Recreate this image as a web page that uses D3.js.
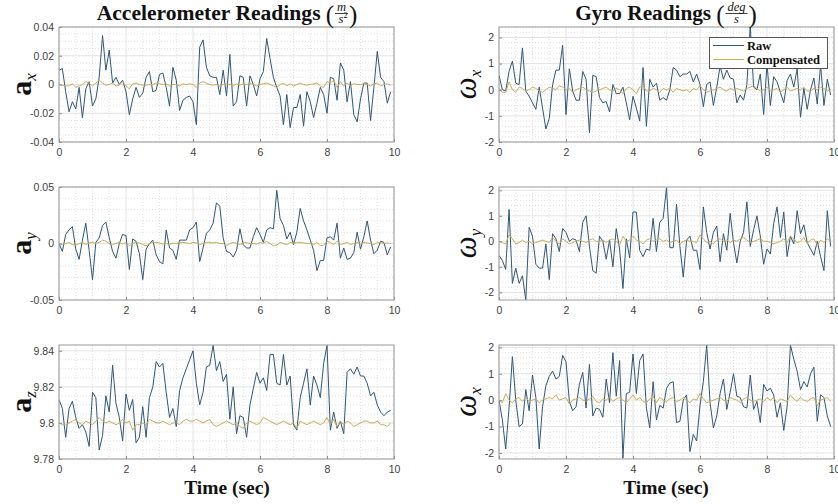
<!DOCTYPE html>
<html>
<head>
<meta charset="utf-8">
<script src="https://cdn.jsdelivr.net/npm/d3@7"></script>
<style>
  body { margin: 0; background: #fff; }
  svg { display: block; }
</style>
</head>
<body>
<svg id="chart"></svg>
<script>
// sample times, 0 .. 9.9 s
var time = d3.range(100).map(i => i / 10);
var timeTicks = [0, 2, 4, 6, 8, 10];

var axRaw = [
  0.010, 0.011, -0.005, -0.019, -0.012, -0.017, -0.002, -0.023, -0.003, 0.002,
  -0.015, -0.010, 0.005, 0.034, 0.010, 0.024, 0.001, 0.005, 0.000, 0.003,
  -0.005, -0.021, -0.010, -0.002, -0.009, -0.006, 0.005, 0.009, -0.005, -0.004,
  0.007, 0.008, -0.002, -0.015, 0.012, 0.003, -0.018, -0.011, -0.009, -0.008,
  -0.012, -0.028, 0.026, 0.031, 0.012, 0.006, 0.005, 0.005, -0.007, 0.010,
  -0.008, 0.021, -0.015, -0.012, 0.006, 0.005, -0.015, 0.006, 0.000, -0.008,
  0.004, 0.009, 0.032, 0.018, 0.005, -0.002, -0.008, -0.028, -0.007, -0.030,
  -0.016, -0.016, -0.007, -0.029, -0.005, -0.012, -0.023, -0.013, -0.002, -0.007,
  -0.020, 0.005, 0.004, -0.011, 0.015, 0.010, -0.012, 0.002, -0.021, -0.026,
  -0.010, 0.001, 0.001, -0.025, -0.002, 0.023, 0.005, 0.002, -0.013, -0.005
];
var axComp = [
  0, -0.0005, -0.001, -0.001, 0.0005, -0.002, -0.001, 0, 0.002, 0.001,
  -0.001, 0.001, 0.003, 0.001, -0.0005, 0, 0.001, -0.001, -0.0005, 0.002,
  -0.001, -0.003, 0.0005, 0.001, 0, -0.0005, -0.0005, 0, 0, 0.001,
  0.0005, 0, 0.0005, -0.001, 0, 0, -0.001, 0.0005, 0, 0.0005,
  0, -0.002, 0.001, 0.002, 0.001, 0, -0.0005, 0, -0.001, 0,
  0.0005, 0, -0.001, 0.0005, -0.0005, 0.0005, 0, 0.001, 0, -0.001,
  0, 0.0005, 0.001, 0, -0.001, -0.002, 0, 0.001, -0.001, 0.0005,
  -0.001, 0, 0.001, 0, -0.0005, 0, 0.0005, 0.001, -0.001, -0.002,
  0.002, 0.001, 0.003, -0.002, 0.002, -0.001, 0.001, -0.001, 0.0005, 0,
  0, 0.0005, 0, -0.001, 0.0005, 0.001, -0.001, 0, 0.0005, -0.0005
];
var ayRaw = [
  0.000, -0.007, 0.008, 0.012, 0.015, -0.005, -0.014, 0.003, 0.018, -0.006,
  -0.032, 0.001, 0.005, 0.016, 0.019, 0.005, -0.007, -0.013, 0.000, 0.008,
  0.007, -0.023, 0.004, 0.002, -0.009, -0.032, -0.005, 0.000, 0.003, -0.010,
  -0.016, -0.018, 0.012, -0.004, -0.006, -0.014, 0.003, 0.003, 0.003, 0.012,
  0.014, 0.019, -0.016, -0.004, 0.009, 0.012, 0.018, 0.036, 0.033, 0.005,
  -0.007, -0.008, -0.012, -0.006, 0.013, -0.001, -0.004, -0.004, 0.006, 0.014,
  0.008, 0.001, 0.012, 0.014, 0.013, 0.047, 0.022, 0.016, 0.004, 0.010,
  -0.001, 0.010, 0.031, 0.020, 0.012, 0.003, -0.006, -0.024, -0.015, -0.015,
  0.005, 0.006, 0.003, 0.018, -0.013, -0.004, -0.014, -0.013, -0.008, 0.010,
  -0.005, 0.006, 0.020, 0.003, -0.009, -0.006, 0.002, 0.001, -0.010, -0.003
];
var ayComp = [
  0, -0.001, 0, 0.001, -0.001, -0.0015, 0, 0.001, -0.001, 0.0005,
  0.001, 0, 0.001, 0.003, 0.002, 0, -0.001, 0, 0.001, -0.0005,
  0.001, -0.002, 0, 0.001, 0.0005, -0.001, -0.002, 0, 0.001, 0.001,
  0.0005, -0.0005, 0, -0.001, 0.0005, 0, 0.001, 0.001, 0.0005, 0,
  0.001, 0.0005, -0.001, 0, 0.001, 0.001, 0.0005, 0.001, 0, 0,
  -0.002, 0, 0.001, 0, -0.001, 0.0005, 0.001, 0, 0, -0.0005,
  0.001, 0, 0.002, 0, -0.002, -0.0015, 0.001, 0, -0.001, 0.001,
  0, 0.001, 0.001, 0.0005, 0, 0, -0.001, 0.001, -0.002, -0.0015,
  0.002, 0.001, -0.001, 0.002, -0.001, 0, 0.001, -0.001, 0, 0.001,
  -0.001, 0.001, 0.0005, 0, -0.001, 0.001, 0.001, 0, 0.0005, 0
];
var azRaw = [
  9.813, 9.808, 9.792, 9.808, 9.812, 9.803, 9.797, 9.799, 9.795, 9.787,
  9.817, 9.814, 9.785, 9.793, 9.815, 9.806, 9.832, 9.811, 9.803, 9.790,
  9.816, 9.807, 9.813, 9.789, 9.792, 9.809, 9.792, 9.814, 9.820, 9.834,
  9.831, 9.833, 9.817, 9.803, 9.808, 9.798, 9.818, 9.825, 9.830, 9.835,
  9.840, 9.822, 9.810, 9.817, 9.831, 9.832, 9.843, 9.829, 9.834, 9.823,
  9.827, 9.802, 9.820, 9.794, 9.804, 9.803, 9.792, 9.810, 9.819, 9.828,
  9.822, 9.825, 9.818, 9.838, 9.838, 9.822, 9.821, 9.838, 9.821, 9.826,
  9.799, 9.796, 9.814, 9.822, 9.830, 9.810, 9.826, 9.821, 9.814, 9.833,
  9.843, 9.796, 9.806, 9.797, 9.801, 9.794, 9.828, 9.830, 9.827, 9.831,
  9.826, 9.826, 9.822, 9.815, 9.817, 9.810, 9.806, 9.804, 9.806, 9.807
];
var azComp = [
  9.800, 9.799, 9.799, 9.800, 9.801, 9.802, 9.800, 9.799, 9.801, 9.800,
  9.799, 9.801, 9.803, 9.801, 9.800, 9.801, 9.800, 9.799, 9.800, 9.802,
  9.800, 9.801, 9.796, 9.799, 9.799, 9.800, 9.799, 9.802, 9.801, 9.800,
  9.800, 9.801, 9.800, 9.799, 9.800, 9.800, 9.799, 9.801, 9.802, 9.801,
  9.801, 9.802, 9.801, 9.800, 9.801, 9.802, 9.799, 9.798, 9.799, 9.800,
  9.801, 9.800, 9.799, 9.800, 9.798, 9.797, 9.800, 9.801, 9.800, 9.799,
  9.800, 9.803, 9.802, 9.801, 9.800, 9.799, 9.800, 9.801, 9.800, 9.799,
  9.800, 9.797, 9.801, 9.800, 9.799, 9.800, 9.801, 9.800, 9.799, 9.800,
  9.803, 9.799, 9.802, 9.798, 9.801, 9.799, 9.801, 9.800, 9.798, 9.799,
  9.800, 9.801, 9.801, 9.800, 9.800, 9.801, 9.799, 9.799, 9.798, 9.800
];
var wx1Raw = [
  0.55, 0.00, -0.05, 0.70, 1.10, 0.25, 0.20, 1.60, -0.05, -0.25,
  -0.50, -0.75, 0.10, -0.70, -1.50, -1.10, 0.20, 0.75, 0.75, 1.70,
  -0.95, 0.80, -0.05, -0.40, -0.40, 0.70, 0.40, -1.65, 0.55, 0.50,
  -0.30, -0.50, -0.45, -0.85, 0.20, -0.15, -0.15, 0.10, -0.50, -1.15,
  -0.25, -0.70, -1.20, 0.85, -1.40, 0.40, 0.10, 0.25, -0.40, -0.30,
  -0.40, 0.00, 0.85, 0.75, 0.50, 0.60, 0.60, 0.70, 0.30, 0.60,
  0.20, -0.65, 0.20, 0.30, -0.60, 0.10, 0.90, 0.40, 0.75, 0.45,
  0.40, -0.50, -0.20, -0.40, 0.20, 2.45, 0.10, 0.00, 0.60, -0.95,
  1.00, -0.60, 0.50, 0.30, -0.10, -0.50, 0.35, 0.60, 0.10, 0.80,
  -1.05, 0.05, -0.75, 0.00, 0.45, -0.55, 0.95, -0.60, 0.40, -0.20
];
var wx1Comp = [
  0.05, -0.10, -0.10, 0.30, 0.00, -0.10, 0.10, 0.05, -0.05, 0.00,
  0.10, 0.05, -0.05, -0.10, 0.00, 0.10, 0.05, 0.00, 0.15, 0.10,
  0.00, 0.05, -0.10, 0.00, 0.05, 0.10, 0.00, -0.05, -0.10, -0.05,
  0.00, 0.05, 0.10, 0.00, -0.05, 0.05, 0.00, -0.15, 0.05, 0.10,
  0.00, -0.15, 0.10, 0.15, -0.05, -0.05, 0.05, 0.00, -0.10, 0.05,
  0.00, 0.05, -0.10, 0.05, 0.00, -0.05, 0.00, -0.10, 0.05, 0.00,
  0.15, 0.00, -0.10, -0.05, 0.00, 0.05, 0.10, 0.00, -0.05, 0.05,
  0.00, 0.05, 0.00, -0.05, 0.05, 0.10, 0.15, 0.05, -0.05, 0.00,
  0.10, -0.05, 0.00, 0.05, -0.10, 0.00, 0.10, -0.05, 0.00, 0.05,
  0.00, 0.10, -0.05, -0.05, 0.05, 0.00, 0.10, 0.05, -0.05, 0.00
];
var wyRaw = [
  -0.55, -0.75, -1.10, 1.25, -1.65, -1.05, -1.65, -1.35, -2.30, 0.55,
  0.20, -0.90, -1.05, -1.05, -0.10, -1.50, 0.30, 0.10, -0.40, 0.50,
  0.35, 0.00, 0.10, 0.05, -0.40, 0.75, 1.00, -0.20, -1.15, -1.25,
  0.20, 0.00, -0.70, 0.05, -1.00, 0.50, -0.30, -1.85, 0.10, -0.65,
  1.15, 1.15, -0.35, -0.60, -0.30, -0.35, 0.90, -0.40, 0.75, 0.90,
  2.10, -0.25, -0.25, 1.45, -0.20, -1.40, 0.05, 0.20, -0.35, -0.35,
  -1.10, 1.35, 0.35, -0.30, 0.35, 0.60, -0.80, 0.30, -0.35, 1.10,
  -0.05, -0.85, 0.00, 0.35, 1.55, -0.20, 0.45, 1.00, 0.20, -0.90,
  -0.30, -0.50, 0.70, 1.35, 0.15, 1.15, -0.60, 0.20, -0.10, 1.20,
  0.30, 0.65, -0.05, -0.30, -0.55, 0.00, -0.60, -1.15, 1.20, -0.20
];
var wyComp = [
  0.00, -0.05, -0.10, 0.25, 0.10, -0.10, -0.05, 0.05, -0.05, 0.00,
  -0.10, -0.05, 0.00, 0.05, 0.00, -0.05, 0.15, 0.00, -0.10, 0.10,
  0.00, -0.10, -0.05, 0.00, 0.05, 0.00, -0.05, 0.05, 0.10, 0.00,
  0.00, 0.05, -0.05, 0.05, 0.10, 0.00, -0.15, 0.20, 0.00, 0.05,
  0.20, 0.05, 0.00, -0.10, 0.05, 0.10, 0.00, 0.05, 0.10, 0.00,
  0.05, -0.05, 0.00, 0.05, -0.10, 0.00, 0.05, 0.00, 0.00, -0.05,
  0.25, 0.10, -0.05, 0.00, -0.10, 0.05, 0.10, 0.00, 0.05, -0.05,
  0.05, 0.00, 0.10, 0.15, 0.05, -0.05, 0.00, 0.05, 0.10, 0.00,
  0.00, -0.05, -0.10, -0.05, 0.00, 0.10, -0.05, 0.20, 0.10, -0.05,
  0.00, 0.15, -0.10, 0.05, 0.10, -0.15, 0.05, -0.05, 0.10, 0.00
];
var wx2Raw = [
  0.00, -0.75, -1.85, -0.30, 1.65, 0.00, -1.00, -0.90, 0.40, -0.40,
  0.95, 0.10, -1.85, -0.25, 0.55, 0.90, 1.10, 0.80, 0.90, 1.70,
  1.45, -0.05, -0.40, -0.25, 0.60, 1.05, -0.30, 1.35, -0.60, -0.30,
  -0.35, -0.65, 0.80, -0.10, 1.80, 0.15, 1.50, -2.20, 0.25, 0.30,
  1.75, 0.25, 1.50, 1.75, -0.30, -1.05, 0.70, -0.75, -0.20, -0.30,
  0.45, 0.65, 0.70, -0.85, -0.80, 0.00, 0.20, -1.95, -1.30, -1.55,
  -0.20, 0.70, 2.09, -0.10, -1.05, -0.60, 0.25, 0.80, -0.35, 0.30,
  1.00, 0.15, 0.10, -0.25, -0.30, 0.95, -0.35, -0.05, -0.85, 0.60,
  0.35, 0.45, 0.20, -0.65, -0.10, -1.15, -0.25, 2.09, 1.55, 1.10,
  0.40, 0.70, 0.50, 1.00, 1.25, -0.80, 0.20, 0.10, -0.60, -1.00
];
var wx2Comp = [
  0.00, -0.10, 0.25, 0.00, -0.10, 0.05, 0.10, -0.05, 0.10, -0.05,
  0.00, 0.05, -0.10, 0.00, 0.05, 0.10, 0.05, 0.20, 0.00, 0.05,
  0.10, -0.15, 0.00, 0.05, 0.10, 0.00, -0.05, 0.05, 0.15, -0.05,
  -0.10, 0.05, 0.00, 0.10, -0.05, 0.05, 0.10, 0.00, -0.10, 0.05,
  0.20, 0.00, 0.10, -0.05, -0.10, 0.05, 0.15, -0.10, 0.10, 0.00,
  -0.05, 0.05, 0.10, -0.05, 0.00, 0.10, 0.00, -0.10, 0.05, 0.00,
  0.25, 0.05, -0.10, -0.05, 0.00, 0.05, 0.10, 0.00, -0.05, 0.10,
  0.05, 0.00, -0.10, 0.05, 0.10, 0.00, -0.05, 0.00, 0.05, -0.05,
  0.10, 0.00, 0.10, -0.10, 0.05, 0.00, -0.05, 0.20, 0.05, -0.05,
  0.10, 0.00, -0.05, 0.05, 0.10, -0.20, 0.00, 0.05, 0.10, -0.05
];

var axTicks = [-0.04, -0.02, 0, 0.02, 0.04];
var ayTicks = [-0.05, 0, 0.05];
var azTicks = [9.78, 9.8, 9.82, 9.84];
var gyroTicks = [-2, -1, 0, 1, 2];
var legendNames = ["Raw", "Compensated"];

var W = 838, H = 504;
var rawColor = "#2f5679", compColor = "#c9ad5c";
var serif = "'Liberation Serif', 'DejaVu Serif', serif";
var sans = "'Liberation Sans', Arial, sans-serif";

var svg = d3.select("#chart").attr("width", W).attr("height", H);

var colX = [59, 499], plotW = 335;
var rowBox = [{top: 27, h: 115}, {top: 187, h: 113}, {top: 345, h: 114}];

var panels = [
  {col: 0, row: 0, raw: axRaw, comp: axComp, dom: [-0.04, 0.04], ticks: axTicks, minor: 0.005, sym: "a", bold: true, sub: "x"},
  {col: 0, row: 1, raw: ayRaw, comp: ayComp, dom: [-0.05, 0.05], ticks: ayTicks, minor: 0.01, sym: "a", bold: true, sub: "y"},
  {col: 0, row: 2, raw: azRaw, comp: azComp, dom: [9.78, 9.8432], ticks: azTicks, minor: 0.005, sym: "a", bold: true, sub: "z"},
  {col: 1, row: 0, raw: wx1Raw, comp: wx1Comp, dom: [-2, 2.4], ticks: gyroTicks, minor: 0.2, sym: "\u03c9", bold: false, sub: "x"},
  {col: 1, row: 1, raw: wyRaw, comp: wyComp, dom: [-2.3, 2.13], ticks: gyroTicks, minor: 0.2, sym: "\u03c9", bold: false, sub: "y"},
  {col: 1, row: 2, raw: wx2Raw, comp: wx2Comp, dom: [-2.23, 2.09], ticks: gyroTicks, minor: 0.2, sym: "\u03c9", bold: false, sub: "x"}
];

var fmt = d => (d === 0 ? "0" : String(+d.toFixed(3)));

panels.forEach(function(p, i) {
  var x0 = colX[p.col], top = rowBox[p.row].top, h = rowBox[p.row].h;
  var x = d3.scaleLinear().domain([0, 10]).range([x0, x0 + plotW]);
  var y = d3.scaleLinear().domain(p.dom).range([top + h, top]);
  var g = svg.append("g");

  g.append("rect").attr("x", x0).attr("y", top).attr("width", plotW).attr("height", h)
   .attr("fill", "#fff");

  // minor grid
  var minorX = d3.range(0, 10.001, 0.5).filter(v => Math.abs(v / 2 - Math.round(v / 2)) > 1e-6);
  var lo = Math.ceil(p.dom[0] / p.minor - 1e-6), hi = Math.floor(p.dom[1] / p.minor + 1e-6);
  var minorY = d3.range(lo, hi + 1).map(k => k * p.minor)
    .filter(v => !p.ticks.some(t => Math.abs(t - v) < p.minor / 10));
  g.selectAll(".mx").data(minorX).enter().append("line")
   .attr("x1", d => x(d)).attr("x2", d => x(d)).attr("y1", top).attr("y2", top + h)
   .attr("stroke", "#d9d9d9").attr("stroke-width", 0.8).attr("stroke-dasharray", "1,2");
  g.selectAll(".my").data(minorY).enter().append("line")
   .attr("x1", x0).attr("x2", x0 + plotW).attr("y1", d => y(d)).attr("y2", d => y(d))
   .attr("stroke", "#d9d9d9").attr("stroke-width", 0.8).attr("stroke-dasharray", "1,2");

  // major grid
  g.selectAll(".gx").data(timeTicks).enter().append("line")
   .attr("x1", d => x(d)).attr("x2", d => x(d)).attr("y1", top).attr("y2", top + h)
   .attr("stroke", "#e3e3e3").attr("stroke-width", 1);
  g.selectAll(".gy").data(p.ticks).enter().append("line")
   .attr("x1", x0).attr("x2", x0 + plotW).attr("y1", d => y(d)).attr("y2", d => y(d))
   .attr("stroke", "#e3e3e3").attr("stroke-width", 1);

  // lines
  var clipId = "clip" + i;
  svg.append("clipPath").attr("id", clipId).append("rect")
     .attr("x", x0).attr("y", top).attr("width", plotW).attr("height", h);
  var line = d3.line().x((d, j) => x(time[j])).y(d => y(d));
  var lg = g.append("g").attr("clip-path", "url(#" + clipId + ")");
  lg.append("path").datum(p.raw).attr("d", line).attr("fill", "none")
    .attr("stroke", rawColor).attr("stroke-width", 1);
  lg.append("path").datum(p.comp).attr("d", line).attr("fill", "none")
    .attr("stroke", compColor).attr("stroke-width", 1);

  // axes
  var xa = g.append("g").attr("transform", "translate(0," + (top + h) + ")")
    .call(d3.axisBottom(x).tickValues(timeTicks).tickSize(-3).tickPadding(7));
  var ya = g.append("g").attr("transform", "translate(" + x0 + ",0)")
    .call(d3.axisLeft(y).tickValues(p.ticks).tickFormat(fmt).tickSize(-3).tickPadding(5));
  [xa, ya].forEach(function(a) {
    a.select(".domain").remove();
    a.selectAll("line").attr("stroke", "#8c8c8c");
    a.selectAll("text").attr("fill", "#404040").style("font-family", sans).style("font-size", "10.5px");
  });

  g.append("rect").attr("x", x0).attr("y", top).attr("width", plotW).attr("height", h)
   .attr("fill", "none").attr("stroke", "#9a9a9a").attr("stroke-width", 1);

  // y label
  var lx = p.col === 0 ? 31 : 476, ly = top + h / 2;
  var t = g.append("text").attr("transform", "translate(" + lx + "," + ly + ") rotate(-90)")
    .attr("text-anchor", "middle").attr("fill", "#111").style("font-family", serif);
  t.append("tspan").text(p.sym).style("font-size", p.bold ? "30px" : "31px")
    .style("font-weight", p.bold ? "bold" : "normal").style("font-style", p.bold ? "normal" : "italic");
  t.append("tspan").text(p.sub).attr("dy", 5).style("font-size", "17px").style("font-style", "italic");

  if (p.col === 1 && p.row === 0) {
    var lgd = svg.append("g");
    lgd.append("rect").attr("x", 709.5).attr("y", 37.5).attr("width", 118).attr("height", 31)
       .attr("fill", "#fff").attr("stroke", "#555");
    [rawColor, compColor].forEach(function(c, k) {
      var yy = 45.5 + k * 14;
      lgd.append("line").attr("x1", 713).attr("x2", 744).attr("y1", yy).attr("y2", yy)
         .attr("stroke", c).attr("stroke-width", 1);
      lgd.append("text").attr("x", 747).attr("y", yy + 4).text(legendNames[k])
         .attr("fill", "#111").style("font-family", serif).style("font-weight", "bold").style("font-size", "12.5px");
    });
  }
});

// titles with fraction unit
function fracTitle(cx, base, main, mainW, num, den, denSup) {
  var g = svg.append("g");
  var m = g.append("text").attr("x", 0).attr("y", base).text(main)
    .attr("fill", "#111").style("font-family", serif).style("font-weight", "bold").style("font-size", "20px");
  var w = m.node().getComputedTextLength();
  m.style("font-size", (20 * mainW / w) + "px");
  var xx = mainW + 5;
  var lp = g.append("text").attr("x", xx).attr("y", base + 3).text("(")
    .attr("fill", "#111").style("font-family", serif).style("font-size", "25px");
  xx += lp.node().getComputedTextLength() + 1;
  var nt = g.append("text").attr("y", base - 9).text(num).attr("text-anchor", "middle")
    .attr("fill", "#111").style("font-family", serif).style("font-style", "italic").style("font-size", "12.5px");
  var dt = g.append("text").attr("y", base + 3).attr("text-anchor", "middle")
    .attr("fill", "#111").style("font-family", serif).style("font-style", "italic").style("font-size", "12.5px");
  dt.append("tspan").text(den);
  if (denSup) dt.append("tspan").text(denSup).attr("dy", -5).style("font-size", "8px").style("font-style", "normal");
  var fw = Math.max(nt.node().getComputedTextLength(), dt.node().getComputedTextLength()) + 4;
  nt.attr("x", xx + fw / 2);
  dt.attr("x", xx + fw / 2 + (denSup ? 1.5 : 0));
  g.append("line").attr("x1", xx).attr("x2", xx + fw).attr("y1", base - 6.5).attr("y2", base - 6.5)
    .attr("stroke", "#111").attr("stroke-width", 0.8);
  xx += fw + 1;
  var rp = g.append("text").attr("x", xx).attr("y", base + 3).text(")")
    .attr("fill", "#111").style("font-family", serif).style("font-size", "25px");
  xx += rp.node().getComputedTextLength();
  g.attr("transform", "translate(" + (cx - xx / 2) + ",0)");
}
fracTitle(227, 20, "Accelerometer Readings", 224, "m", "s", "2");
fracTitle(666, 20, "Gyro Readings", 136, "deg", "s", null);

// x labels
[227, 666].forEach(function(cx) {
  svg.append("text").attr("x", cx).attr("y", 494).attr("text-anchor", "middle").text("Time (sec)")
    .attr("fill", "#111").style("font-family", serif).style("font-weight", "bold").style("font-size", "19.5px");
});
</script>
</body>
</html>
